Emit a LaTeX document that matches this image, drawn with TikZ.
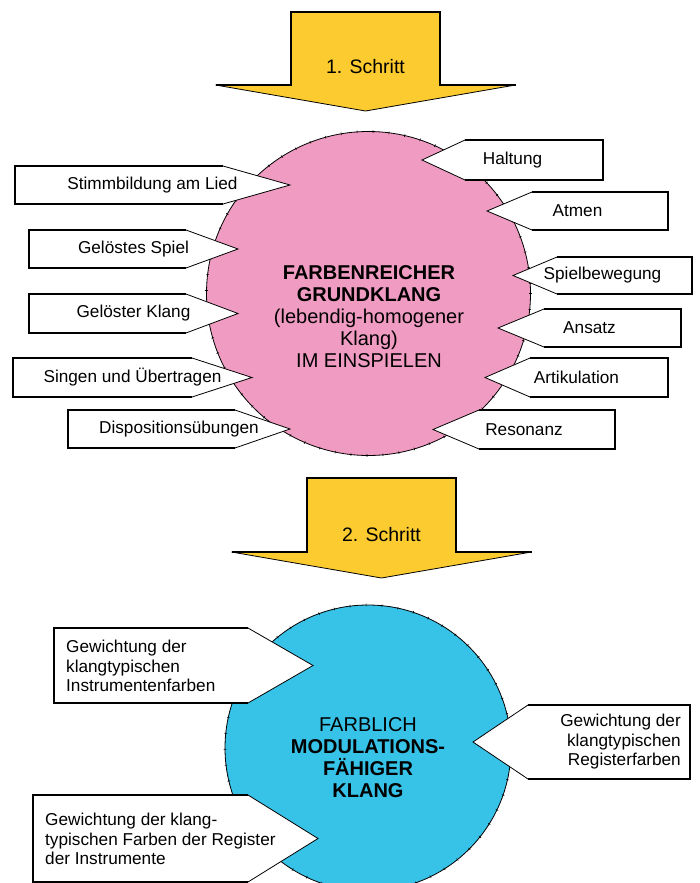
\documentclass[tikz,border=0pt]{standalone}
\usepackage{fontspec}
\setmainfont{Liberation Sans}
\usetikzlibrary{decorations.pathreplacing}
\definecolor{arrowyellow}{HTML}{FCCB2F}
\definecolor{circpink}{HTML}{F09BC2}
\definecolor{circblue}{HTML}{37C2E7}
\tikzset{
  boxedge/.style={line width=2pt, line join=miter, line cap=butt},
  thinedge/.style={line width=0.8pt},
  lbl/.style={inner sep=0pt, font=\fontsize{17.2}{19.5}\selectfont},
  steplbl/.style={inner sep=0pt, font=\fontsize{19.5}{22}\selectfont},
  centerlbl/.style={inner sep=0pt, align=center, font=\fontsize{20}{22}\selectfont},
  circtick/.style={decorate, decoration={ticks, segment length=16pt, amplitude=1.3pt}, line width=0.6pt},
}
% callout with pointer to the right: name, xl, xr, yt, yb, tipx
\newcommand\calloutRight[6]{%
  \coordinate (#1-nw) at (#2,#4);
  \coordinate (#1-ne) at (#3,#4);
  \coordinate (#1-se) at (#3,#5);
  \coordinate (#1-sw) at (#2,#5);
  \coordinate (#1-tip) at (#6,{(#4+#5)/2});
  \coordinate (#1-c) at ({(#2+#6)/2},{(#4+#5)/2});
  \fill[white] (#1-nw) -- (#1-ne) -- (#1-tip) -- (#1-se) -- (#1-sw) -- cycle;
  \draw[boxedge] (#1-ne) -- (#1-nw) -- (#1-sw) -- (#1-se);
  \draw[thinedge] (#1-ne) -- (#1-tip) -- (#1-se);
}
% callout with pointer to the left: name, xl, xr, yt, yb, tipx
\newcommand\calloutLeft[6]{%
  \coordinate (#1-nw) at (#2,#4);
  \coordinate (#1-ne) at (#3,#4);
  \coordinate (#1-se) at (#3,#5);
  \coordinate (#1-sw) at (#2,#5);
  \coordinate (#1-tip) at (#6,{(#4+#5)/2});
  \coordinate (#1-c) at ({(#3+#6)/2},{(#4+#5)/2});
  \fill[white] (#1-ne) -- (#1-nw) -- (#1-tip) -- (#1-sw) -- (#1-se) -- cycle;
  \draw[boxedge] (#1-nw) -- (#1-ne) -- (#1-se) -- (#1-sw);
  \draw[thinedge] (#1-nw) -- (#1-tip) -- (#1-sw);
}
% block arrow: name, xl, ytop, xr, yshoulder, halfhead, ytip
\newcommand\blockArrow[7]{%
  \coordinate (#1-tl) at (#2,#3);
  \coordinate (#1-tr) at (#4,#3);
  \coordinate (#1-sl) at (#2,#5);
  \coordinate (#1-sr) at (#4,#5);
  \coordinate (#1-hl) at ({(#2+#4)/2-#6},#5);
  \coordinate (#1-hr) at ({(#2+#4)/2+#6},#5);
  \coordinate (#1-tip) at ({(#2+#4)/2},#7);
  \fill[arrowyellow] (#1-hl) -- (#1-sl) -- (#1-tl) -- (#1-tr) -- (#1-sr) -- (#1-hr) -- (#1-tip) -- cycle;
  \draw[boxedge] (#1-hl) -- (#1-sl) -- (#1-tl) -- (#1-tr) -- (#1-sr) -- (#1-hr);
  \draw[thinedge] (#1-hl) -- (#1-tip) -- (#1-hr);
}
\begin{document}
\begin{tikzpicture}[x=1pt,y=-1pt]
\useasboundingbox (0,0) rectangle (699,883);

% ---- step 1 arrow
\blockArrow{arr1}{291}{12}{440}{85}{150}{111}
\node[steplbl] (step1) at (365.5,67) {1. Schritt};

% ---- pink circle
\coordinate (pc) at (368.5,293.5);
\fill[circpink] (pc) circle[radius=162];
\draw[thinedge] (pc) circle[radius=162];
\draw[circtick] (pc) circle[radius=162];

% left callouts
\calloutRight{stimm}{15}{223}{166}{204}{290}
\calloutRight{spiel}{29}{186}{230}{268}{238}
\calloutRight{klang}{29}{186}{294}{333}{238}
\calloutRight{singen}{13}{192}{358}{397}{252}
\calloutRight{dispo}{68}{235}{410}{448}{290}
\node[lbl] (stimmT) at (stimm-c) {Stimmbildung am Lied};
\node[lbl] (spielT) at (spiel-c) {Gelöstes Spiel};
\node[lbl] (klangT) at (klang-c) {Gelöster Klang};
\node[lbl] (singenT) at (singen-c) {Singen und Übertragen};
\node[lbl] (dispoT) at (dispo-c) {Dispositionsübungen};

% right callouts
\calloutLeft{halt}{465}{603}{140}{180}{422}
\calloutLeft{atmen}{532}{668}{192}{230}{487}
\calloutLeft{spbew}{557}{692}{257}{294}{513}
\calloutLeft{ansatz}{544}{681}{309}{347}{498}
\calloutLeft{artik}{530}{668}{358}{397}{485}
\calloutLeft{reson}{479}{615}{410}{449}{433}
\node[lbl] (haltT) at (halt-c) {Haltung};
\node[lbl] (atmenT) at (atmen-c) {Atmen};
\node[lbl] (spbewT) at (spbew-c) {Spielbewegung};
\node[lbl] (ansatzT) at (ansatz-c) {Ansatz};
\node[lbl] (artikT) at (artik-c) {Artikulation};
\node[lbl] (resonT) at (reson-c) {Resonanz};

\node[centerlbl] (grund) at (369,316.5) {\textbf{FARBENREICHER}\\\textbf{GRUNDKLANG}\\(lebendig-homogener\\Klang)\\IM EINSPIELEN};

% ---- step 2 arrow
\blockArrow{arr2}{307}{478}{456}{552}{150}{578}
\node[steplbl] (step2) at (381.5,535) {2. Schritt};

% ---- blue circle
\coordinate (bc) at (368,748);
\fill[circblue] (bc) circle[radius=143];
\draw[thinedge] (bc) circle[radius=143];
\draw[circtick] (bc) circle[radius=143];

\calloutRight{instr}{54}{248}{628}{703}{313}
\calloutRight{regi}{33}{248}{795}{882}{318}
\calloutLeft{regf}{528}{690}{705}{779}{473}
\node[lbl, anchor=west, align=left] (instrT) at (66,666) {Gewichtung der\\klangtypischen\\Instrumentenfarben};
\node[lbl, anchor=west, align=left] (regiT) at (45,839) {Gewichtung der klang-\\typischen Farben der Register\\der Instrumente};
\node[lbl, anchor=east, align=right] (regfT) at (681,742) {Gewichtung der\\klangtypischen\\Registerfarben};

\node[centerlbl] (modul) at (368,758) {FARBLICH\\\textbf{MODULATIONS-}\\\textbf{FÄHIGER}\\\textbf{KLANG}};
\end{tikzpicture}
\end{document}
